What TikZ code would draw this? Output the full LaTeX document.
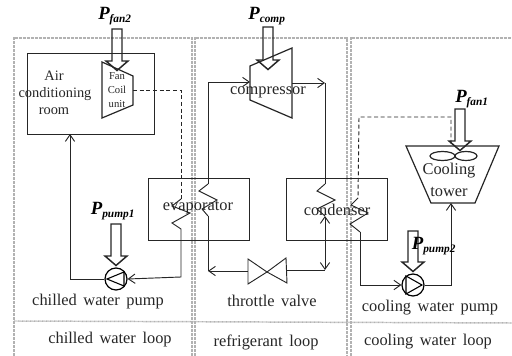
\documentclass[tikz,border=0pt]{standalone}
\usepackage{fontspec}
\setmainfont{Liberation Serif}
\usetikzlibrary{arrows.meta}
\newcommand{\wordgap}{\spaceskip 0.4em\relax}
\newcommand{\lblfont}{\fontsize{12.3}{14}\selectfont\wordgap}
\newcommand{\subfont}{\fontsize{8.5}{9}\selectfont}
\tikzset{
  panel/.style={draw=black!30,dash pattern=on 0.6pt off 0.4pt,line width=1.1pt},
  flow/.style={draw=black!85,line width=0.7pt},
  hot/.style={->,>={Straight Barb[length=5pt,width=7pt]},flow},
  cable/.style={flow,dash pattern=on 3pt off 2pt},
  box/.style={draw=black!85,line width=0.7pt,minimum width=75.75pt,minimum height=46.5pt,inner sep=0pt},
  pump/.style={circle,draw=black,line width=0.9pt,minimum size=16.5pt,inner sep=0pt},
  lbl/.style={font=\lblfont,inner sep=0pt,text=black!85},
  roomlbl/.style={font=\fontsize{10.8}{12}\selectfont,inner sep=0pt,text=black!85},
  tiny/.style={font=\fontsize{8}{9}\selectfont,inner sep=0pt,text=black!85},
  powerlbl/.style={font=\bfseries\itshape\fontsize{14}{14}\selectfont,inner sep=0pt},
  powerarrow/.style={draw=black!85,line width=1.1pt},
}
\begin{document}
\begin{tikzpicture}[x=0.75pt,y=-0.75pt]
  \useasboundingbox (0,0) rectangle (512,356);
  % loops
  \draw[panel] (14,356) -- (14,38) -- (192,38) -- (192,356);
  \draw[panel] (195,356) -- (195,38) -- (347,38) -- (347,356);
  \draw[panel] (351,356) -- (351,38) -- (512,38);
  \draw[panel] (14,321) -- (512,323);
  % boxes
  \node[box,minimum width=95.25pt,minimum height=60.75pt] (room) at (90.5,93.5) {};
  \node[box] (evap) at (198.5,209) {};
  \node[box] (cond) at (337,209) {};
  % fan coil, compressor, tower, valve
  \draw[black!85,line width=0.9pt] (102,62) -- (133,76) -- (133,105) -- (102,118) -- cycle;
  \draw[black!85,line width=0.9pt] (250,66) -- (292,48) -- (292,118) -- (250,100) -- cycle;
  \draw[black!85,line width=0.9pt] (406,146) -- (499,146) -- (475,203) -- (431,203) -- cycle;
  \draw[black!85,line width=0.9pt] (442.5,156) ellipse (12.5 and 4.5);
  \draw[black!85,line width=0.9pt] (466,156) ellipse (11 and 4.5);
  \draw[black!85,line width=0.7pt] (248,259) -- (248,284) -- (267,272) -- cycle;
  \draw[black!85,line width=0.7pt] (286,258) -- (287,283) -- (267,272) -- cycle;
  % pumps
  \node[pump] (pumpa) at (116,279) {};
  \node[pump] (pumpb) at (413,285) {};
  \draw[black,line width=0.8pt] (107,279) -- (124,272) -- (124,286) -- cycle;
  \draw[black,line width=0.8pt] (406,276) -- (406,294) -- (422,285) -- cycle;
  % named points on the pipes
  \coordinate (evapin) at (181,199);
  \coordinate (evapout) at (181,229);
  \coordinate (evaptop) at (208,184);
  \coordinate (evapbot) at (208,216);
  \coordinate (condtop) at (325,184);
  \coordinate (condbot) at (325,216);
  \coordinate (watertop) at (358,198);
  \coordinate (waterbot) at (360,232);
  \coordinate (coilout) at (133,90);
  \coordinate (towerin) at (451,144);
  \coordinate (towerbot) at (451,203);
  \coordinate (compin) at (250,82);
  \coordinate (compout) at (292,83);
  \coordinate (corner) at (325,270);
  \coordinate (valvel) at (248,271);
  \coordinate (valver) at (287,270);
  % coils
  \draw[flow] (evapin) -- (172,206) -- (190,213) -- (172,223) -- (evapout);
  \draw[flow] (evaptop) -- (199,191) -- (217,200) -- (202,209) -- (evapbot);
  \draw[flow] (condtop) -- (317,191) -- (335,200) -- (317,209) -- (condbot);
  \draw[flow] (watertop) -- (351,205) -- (368,213) -- (350,224) -- (waterbot);
  % pipes
  \draw[hot] (pumpa.west) -- (70,279) -- (70,134);
  \draw[hot] (evapout) -- (181,277) -- (pumpa.east);
  \draw[hot] (valvel) -- (208,271);
  \draw[flow] (208,271) -- (evapbot);
  \draw[hot] (evaptop) -- (208,82) -- (compin);
  \draw[hot] (compout) -- (325,83);
  \draw[flow] (325,83) -- (condtop);
  \draw[flow] (valver) -- (corner);
  \draw[hot,<->] (condbot) -- (corner);
  \draw[hot] (waterbot) -- (360,285) -- (pumpb.west);
  \draw[hot] (pumpb.east) -- (451,285) -- (towerbot);
  \draw[cable] (coilout) -- (181,90) -- (evapin);
  \draw[cable] (towerin) -- (451,117) -- (359,117) -- (watertop);
  % power inputs
  \foreach \x/\y/\l in {117/29/61,268/27/60,460/109/141,116/224/256,413/231/262}
    \draw[powerarrow] (\x-5,\y) -- (\x+5,\y) -- (\x+5,\l) -- (\x+11,\l) -- (\x,\l+9.5) -- (\x-11,\l) -- (\x-5,\l) -- cycle;
  % labels
  \node[powerlbl] (pfantwo) at (115,16) {P\textsubscript{\subfont fan2}};
  \node[powerlbl] (pcomp) at (267,16) {P\textsubscript{\subfont comp}};
  \node[powerlbl] (pfanone) at (472,99) {P\textsubscript{\subfont fan1}};
  \node[powerlbl] (ppumpone) at (113,211) {P\textsubscript{\subfont pump1}};
  \node[powerlbl] (ppumptwo) at (434,246) {P\textsubscript{\subfont pump2}};
  \node[roomlbl] (tair) at (54,76) {Air};
  \node[roomlbl] (tcond) at (55,94) {conditioning};
  \node[roomlbl] (troom) at (54,111) {room};
  \node[tiny] (tfan) at (117,76) {Fan};
  \node[tiny] (tcoil) at (117,90) {Coil};
  \node[tiny] (tunit) at (117,104) {unit};
  \node[lbl] (tcomp) at (268,92) {compressor};
  \node[lbl] (tevap) at (198,208) {evaporator};
  \node[lbl] (tcnd) at (337,210) {condenser};
  \node[lbl] (tcool) at (449,171) {Cooling};
  \node[lbl] (ttower) at (449,192) {tower};
  \node[lbl] (tpa) at (98,302) {chilled water pump};
  \node[lbl] (tvalve) at (272,301) {throttle valve};
  \node[lbl] (tpb) at (430,308) {cooling water pump};
  \node[lbl] (tla) at (110,340) {chilled water loop};
  \node[lbl] (tlb) at (266,342) {refrigerant loop};
  \node[lbl] (tlc) at (428,342) {cooling water loop};
\end{tikzpicture}
\end{document}
